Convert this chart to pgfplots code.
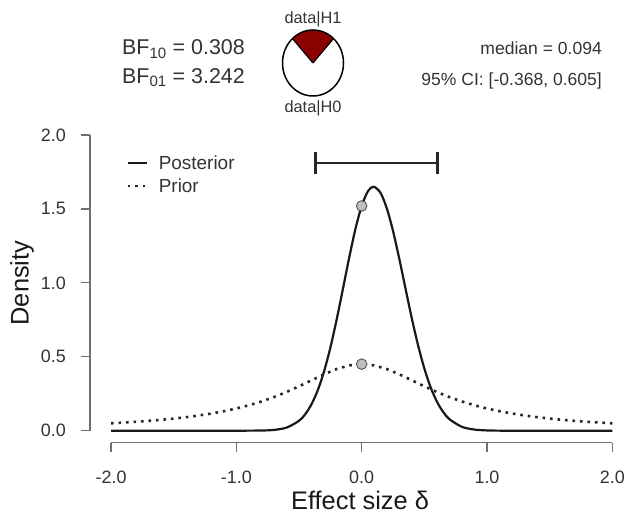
\documentclass[border=0pt]{standalone}
\usepackage{pgfplots}
\pgfplotsset{compat=1.18}
\usepackage{fontspec}
\setmainfont{Liberation Sans}
\definecolor{piered}{HTML}{8B0000}
\definecolor{ptgray}{HTML}{BEBEBE}
\definecolor{spine}{HTML}{707070}
\definecolor{txt}{HTML}{333333}
\newcommand{\fs}[1]{\fontsize{#1}{#1}\selectfont}
\begin{document}
\begin{tikzpicture}[x=1bp,y=1bp]
\path[use as bounding box] (0,0) rectangle (627,518);
\begin{axis}[
  at={(90bp,75.3bp)}, anchor=south west, scale only axis,
  width=522.3bp, height=307.7bp,
  xmin=-2.168, xmax=2.0, ymin=-0.0812, ymax=2.0,
  clip=false,
  axis x line*=bottom, axis y line*=left, axis line style={draw=none},
  xtick={-2,-1,0,1,2}, xticklabels={-2.0,-1.0,0.0,1.0,2.0},
  ytick={0,0.5,1,1.5,2}, yticklabels={0.0,0.5,1.0,1.5,2.0},
  tick align=outside, major tick length=9bp,
  tick style={spine, line width=1.3bp},
  ticklabel style={font=\fs{18}, text=txt, inner sep=0pt},
  xticklabel style={anchor=north, yshift=-19bp},
  yticklabel style={anchor=east, xshift=-15bp},
  xlabel={Effect size δ}, ylabel={Density},
  xlabel style={at={(axis description cs:0.517,-0.1862)}, anchor=center, font=\fs{25.5}, text=black!90},
  ylabel style={at={(axis description cs:-0.130,0.519)}, anchor=center, font=\fs{25.5}, text=black!90},
  legend style={draw=none, fill=none, at={(axis description cs:0.0690,0.8716)}, anchor=west,
    font=\fs{19}, text=txt, inner sep=0pt, row sep=6bp, nodes={inner sep=1bp}},
  legend cell align=left,
  legend image code/.code={\draw[#1] (0bp,0bp) -- (19bp,0bp); \path (29bp,0bp);},
]
% posterior
\addplot[black!90, line width=2.2bp, smooth] coordinates {
(-2,0) (-1.6,0) (-1.2,0) (-1.0,0.0000) (-0.8,0.0012) (-0.7,0.0054) (-0.6,0.0208)
(-0.5,0.0669) (-0.45,0.112) (-0.4,0.1795) (-0.35,0.2746) (-0.3,0.4016)
(-0.25,0.5618) (-0.2,0.7506) (-0.15,0.958) (-0.1,1.169) (-0.05,1.364)
(0,1.520) (0.05,1.620) (0.095,1.65) (0.15,1.609) (0.2,1.505) (0.25,1.351)
(0.3,1.163) (0.35,0.960) (0.4,0.760) (0.45,0.5775) (0.5,0.421) (0.55,0.294)
(0.6,0.197) (0.65,0.127) (0.7,0.078) (0.8,0.026) (0.9,0.0075) (1.0,0.0018)
(1.1,0.0003) (1.2,0) (1.6,0) (2,0)};
\addlegendentry{Posterior}
% prior
\addplot[black!85, line width=2.6bp, dash pattern=on 2.6bp off 4.9bp] coordinates {
(-2.0,0.0500) (-1.9,0.0548) (-1.8,0.0602) (-1.7,0.0664) (-1.6,0.0736) (-1.5,0.0819)
(-1.4,0.0915) (-1.3,0.1028) (-1.2,0.1160) (-1.1,0.1316) (-1.0,0.1501) (-0.9,0.1718)
(-0.8,0.1975) (-0.7,0.2274) (-0.6,0.2617) (-0.5,0.3001) (-0.4,0.3411) (-0.3,0.3815)
(-0.2,0.4169) (-0.1,0.4414) (0,0.4502) (0.1,0.4414) (0.2,0.4169) (0.3,0.3815)
(0.4,0.3411) (0.5,0.3001) (0.6,0.2617) (0.7,0.2274) (0.8,0.1975) (0.9,0.1718)
(1.0,0.1501) (1.1,0.1316) (1.2,0.1160) (1.3,0.1028) (1.4,0.0915) (1.5,0.0819)
(1.6,0.0736) (1.7,0.0664) (1.8,0.0602) (1.9,0.0548) (2.0,0.0500)};
\addlegendentry{Prior}
% credible interval
\addplot[black!85, line width=2.4bp, forget plot] coordinates {(-0.368,1.811) (0.605,1.811)};
\addplot[black!85, line width=2.4bp, forget plot] coordinates {(-0.368,1.737) (-0.368,1.885)};
\addplot[black!85, line width=2.4bp, forget plot] coordinates {(0.605,1.737) (0.605,1.885)};
% points at delta = 0
\addplot[only marks, mark=*, mark size=5.3bp, mark options={fill=ptgray, draw=gray!55!black, line width=0.8bp}, forget plot]
  coordinates {(0,1.520) (0,0.4502)};
% spines
\draw[spine, line width=1.3bp] (axis cs:-2.168,0) -- (axis cs:-2.168,2);
\draw[spine, line width=1.3bp] (axis cs:-2,-0.0812) -- (axis cs:2,-0.0812);
\end{axis}
% header
\node[anchor=base west, font=\fs{21.5}, text=txt, inner sep=0pt] at (122,463) {BF\textsubscript{10} = 0.308};
\node[anchor=base west, font=\fs{21.5}, text=txt, inner sep=0pt] at (122,434.7) {BF\textsubscript{01} = 3.242};
\node[anchor=base east, font=\fs{17.6}, text=txt, inner sep=0pt] at (602,463) {median = 0.094};
\node[anchor=base east, font=\fs{17.6}, text=txt, inner sep=0pt] at (602,432) {95\% CI: [-0.368, 0.605]};
\node[anchor=base, font=\fs{16.4}, text=txt, inner sep=0pt] at (313,494) {data|H1};
\node[anchor=base, font=\fs{16.4}, text=txt, inner sep=0pt] at (313,405) {data|H0};
\fill[piered] (313,455) -- ++(47.6:30.5 and 33) arc[start angle=47.6, end angle=132.4, x radius=30.5, y radius=33] -- cycle;
\draw[black, line width=1.1bp] (313,455) -- ++(47.6:30.5 and 33) (313,455) -- ++(132.4:30.5 and 33);
\draw[black, line width=1.5bp] (313,455) ellipse [x radius=30.5, y radius=33];
\end{tikzpicture}
\end{document}
